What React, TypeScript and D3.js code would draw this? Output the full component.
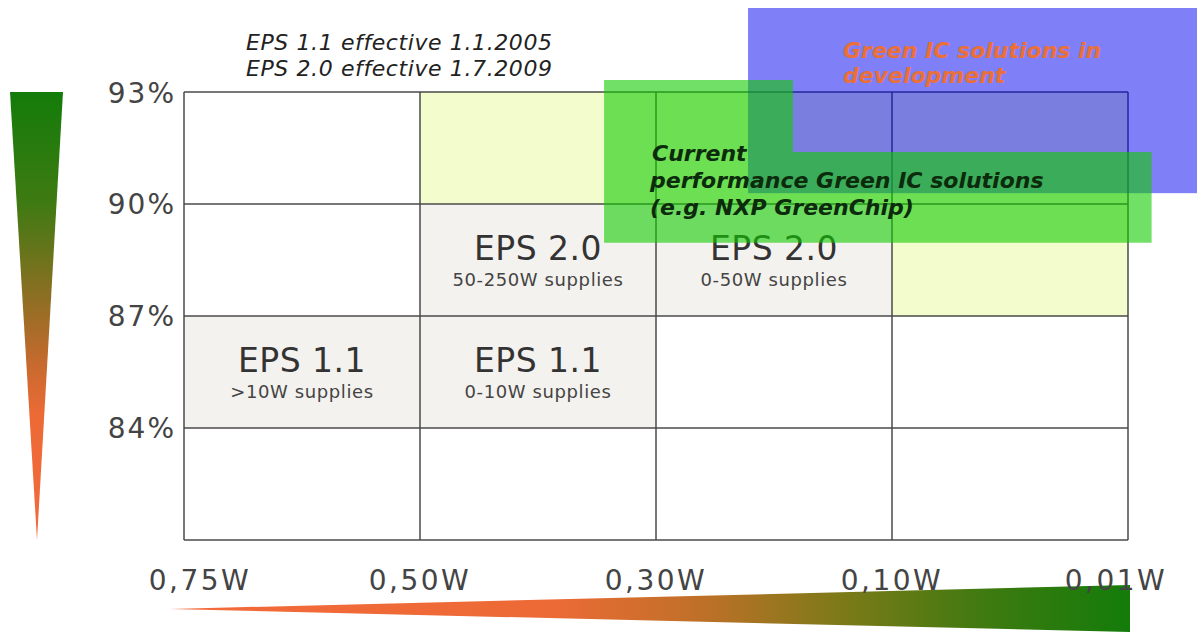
import React, { useRef, useEffect } from "react";
import * as d3 from "d3";

// axis labels (power in standby, efficiency levels)
const powerLabels = ["0,75W", "0,50W", "0,30W", "0,10W", "0,01W"];
const effLevels = [93, 90, 87, 84, 81];
const effLabels = ["93%", "90%", "87%", "84%", ""];

// regulation cells: column index (left edge), efficiency top
const epsTitles = ["EPS 2.0", "EPS 2.0", "EPS 1.1", "EPS 1.1"];
const epsSubs = ["50-250W supplies", "0-50W supplies", ">10W supplies", "0-10W supplies"];
const epsCol = [1, 2, 0, 1];
const epsTop = [90, 90, 87, 87];

// light yellow target cells
const targetCol = [1, 2, 3, 3];
const targetTop = [93, 93, 93, 90];

// overlays in data units (column index, efficiency)
const greenShape: [number, number][] = [
  [1.78, 93.32], [2.58, 93.32], [2.58, 91.39], [4.1, 91.39], [4.1, 88.96], [1.78, 88.96],
];
const blueBox = { x0: 2.39, x1: 4.3, y0: 95.25, y1: 90.29 };

const notes = ["EPS 1.1 effective 1.1.2005", "EPS 2.0 effective 1.7.2009"];
const greenText = ["Current", "performance Green IC solutions", "(e.g. NXP GreenChip)"];
const blueText = ["Green IC solutions in", "development"];

const W = 1197, H = 632;

const App = () => {
  const ref = useRef<SVGSVGElement>(null);

  useEffect(() => {
    const svg = d3.select(ref.current);
    svg.selectAll("*").remove();

    const x = d3.scaleLinear().domain([0, 4]).range([184, 1128]);
    const y = d3.scaleLinear().domain([81, 93]).range([540, 92]);
    const colW = x(1) - x(0);
    const rowH = y(90) - y(93);

    const defs = svg.append("defs");
    const vg = defs.append("linearGradient").attr("id", "vgrad")
      .attr("x1", 0).attr("y1", 0).attr("x2", 0).attr("y2", 1);
    [[0, "#137c0a"], [0.25, "#3f7a12"], [0.45, "#8a6f22"], [0.6, "#c46a2e"], [0.72, "#ec6a36"], [1, "#f4693a"]]
      .forEach(([o, c]) => vg.append("stop").attr("offset", o as number).attr("stop-color", c as string));
    const hg = defs.append("linearGradient").attr("id", "hgrad")
      .attr("x1", 0).attr("y1", 0).attr("x2", 1).attr("y2", 0);
    [[0, "#f4693a"], [0.4, "#ec6a36"], [0.55, "#c07028"], [0.7, "#7c7a18"], [0.85, "#3e7a10"], [1, "#137c0a"]]
      .forEach(([o, c]) => hg.append("stop").attr("offset", o as number).attr("stop-color", c as string));

    // gradient wedges
    svg.append("path")
      .attr("d", `M${10},${y(93)} L${63},${y(93)} L${37},${y(81)} Z`)
      .attr("fill", "url(#vgrad)");
    svg.append("path")
      .attr("d", `M${x(0) - 14},609 L${x(4) + 2},585 L${x(4) + 2},632 Z`)
      .attr("fill", "url(#hgrad)");

    // target cells
    svg.append("g").selectAll("rect").data(targetCol).join("rect")
      .attr("x", d => x(d)).attr("y", (d, i) => y(targetTop[i]))
      .attr("width", colW).attr("height", rowH)
      .attr("fill", "#f2fccc");

    // EPS cells
    svg.append("g").selectAll("rect").data(epsCol).join("rect")
      .attr("x", d => x(d)).attr("y", (d, i) => y(epsTop[i]))
      .attr("width", colW).attr("height", rowH)
      .attr("fill", "#f4f2ee");

    // grid
    const grid = svg.append("g").attr("stroke", "#4a4a4a").attr("stroke-width", 1.5);
    effLevels.forEach(v => grid.append("line")
      .attr("x1", x(0)).attr("x2", x(4)).attr("y1", y(v)).attr("y2", y(v)));
    powerLabels.forEach((p, i) => grid.append("line")
      .attr("x1", x(i)).attr("x2", x(i)).attr("y1", y(93)).attr("y2", y(81)));

    // cell labels
    const cellText = svg.append("g").attr("font-family", "DejaVu Sans").attr("text-anchor", "middle");
    epsCol.forEach((c, i) => {
      const cx = x(c) + colW / 2;
      const top = y(epsTop[i]);
      cellText.append("text").attr("x", cx).attr("y", top + 56)
        .attr("font-size", 33).attr("fill", "#333")
        .attr("letter-spacing", 0.5).text(epsTitles[i]);
      cellText.append("text").attr("x", cx).attr("y", top + 82)
        .attr("font-size", 18).attr("fill", "#444").attr("letter-spacing", 0.6).text(epsSubs[i]);
    });

    // overlays
    svg.append("rect")
      .attr("x", x(blueBox.x0)).attr("y", y(blueBox.y0))
      .attr("width", x(blueBox.x1) - x(blueBox.x0)).attr("height", y(blueBox.y1) - y(blueBox.y0))
      .attr("fill", "#0000f2").attr("fill-opacity", 0.5);
    svg.append("path")
      .attr("d", d3.line()(greenShape.map(([a, b]) => [x(a), y(b)] as [number, number])) + "Z")
      .attr("fill", "#12cc00").attr("fill-opacity", 0.6);

    // axis labels
    svg.append("g").attr("font-family", "DejaVu Sans").attr("font-size", 28).attr("fill", "#444")
      .attr("text-anchor", "end").attr("letter-spacing", 2)
      .selectAll("text").data(effLabels).join("text")
      .attr("x", 176).attr("y", (d, i) => y(effLevels[i]) + 10 + (i === 0 ? 1 : 0))
      .text(d => d);
    svg.append("g").attr("font-family", "DejaVu Sans").attr("font-size", 28).attr("fill", "#444")
      .attr("text-anchor", "middle").attr("letter-spacing", 2.5)
      .selectAll("text").data(powerLabels).join("text")
      .attr("x", (d, i) => x(i) + (i === 0 ? 16 : i === 4 ? -12 : 0)).attr("y", 590)
      .text(d => d);

    // notes
    svg.append("g").attr("font-family", "DejaVu Sans").attr("font-style", "italic")
      .attr("font-size", 22).attr("fill", "#222").attr("letter-spacing", 0.6)
      .selectAll("text").data(notes).join("text")
      .attr("x", 246).attr("y", (d, i) => 50 + i * 26).text(d => d);

    svg.append("g").attr("font-family", "DejaVu Sans").attr("font-style", "italic")
      .attr("font-weight", "bold").attr("font-size", 22).attr("fill", "#0c2a0c")
      .selectAll("text").data(greenText).join("text")
      .attr("x", (d, i) => (i === 0 ? 652 : 650)).attr("y", (d, i) => 161 + i * 27).text(d => d);

    svg.append("g").attr("font-family", "DejaVu Sans").attr("font-style", "italic")
      .attr("font-weight", "bold").attr("font-size", 22).attr("fill", "#ea7038")
      .selectAll("text").data(blueText).join("text")
      .attr("x", 843).attr("y", (d, i) => 58 + i * 25).text(d => d);
  }, []);

  return (
    <div>
      <svg ref={ref} width={W} height={H}
        style={{ position: "absolute", left: 0, top: 0, background: "#fff" }} />
    </div>
  );
};

export default App;
